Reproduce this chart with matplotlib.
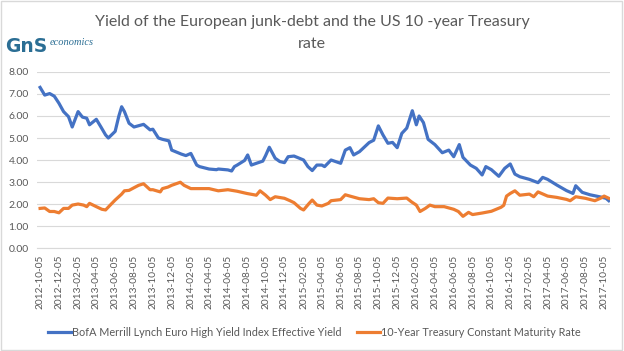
import pandas as pd
import matplotlib
matplotlib.use("Agg")
import matplotlib.pyplot as plt
import matplotlib.dates as mdates
from matplotlib.patches import Rectangle

# BofA Merrill Lynch Euro High Yield Index Effective Yield
hy_dates = ["2012-10-05", "2012-10-20", "2012-11-05", "2012-11-20", "2012-12-05", "2012-12-20",
            "2013-01-05", "2013-01-17", "2013-02-05", "2013-02-19", "2013-03-05", "2013-03-14",
            "2013-04-05", "2013-04-20", "2013-05-05", "2013-05-14", "2013-06-05", "2013-06-17",
            "2013-06-26", "2013-07-05", "2013-07-20", "2013-08-05", "2013-09-05", "2013-09-26",
            "2013-10-05", "2013-10-23", "2013-11-05", "2013-11-26", "2013-12-05", "2014-01-05",
            "2014-01-20", "2014-02-05", "2014-02-24", "2014-03-05", "2014-04-05", "2014-04-29",
            "2014-05-05", "2014-06-05", "2014-06-17", "2014-06-26", "2014-07-05", "2014-07-29",
            "2014-08-08", "2014-08-20", "2014-09-05", "2014-09-26", "2014-10-05", "2014-10-17",
            "2014-11-05", "2014-11-20", "2014-12-05", "2014-12-17", "2015-01-05", "2015-02-05",
            "2015-02-19", "2015-03-05", "2015-03-20", "2015-04-05", "2015-04-14", "2015-05-05",
            "2015-06-05", "2015-06-20", "2015-07-05", "2015-07-17", "2015-08-05", "2015-09-05",
            "2015-09-20", "2015-10-05", "2015-10-20", "2015-11-05", "2015-11-20", "2015-12-05",
            "2015-12-20", "2016-01-05", "2016-01-23", "2016-02-05", "2016-02-14", "2016-02-28",
            "2016-03-14", "2016-04-05", "2016-04-29", "2016-05-20", "2016-06-05", "2016-06-23",
            "2016-07-05", "2016-07-29", "2016-08-17", "2016-09-05", "2016-09-17", "2016-10-05",
            "2016-10-29", "2016-11-17", "2016-12-05", "2016-12-20", "2017-01-05", "2017-02-05",
            "2017-03-05", "2017-03-20", "2017-04-05", "2017-05-05", "2017-06-05", "2017-06-26",
            "2017-07-05", "2017-07-26", "2017-08-20", "2017-09-20", "2017-10-11", "2017-10-20"]
hy_yield = [7.30, 6.95, 7.02, 6.90, 6.58, 6.20,
            5.97, 5.50, 6.20, 5.95, 5.90, 5.60,
            5.85, 5.50, 5.14, 5.00, 5.30, 6.00,
            6.42, 6.20, 5.67, 5.50, 5.62, 5.37,
            5.40, 5.00, 4.94, 4.87, 4.45, 4.27,
            4.20, 4.30, 3.77, 3.70, 3.59, 3.56,
            3.59, 3.55, 3.50, 3.70, 3.77, 3.98,
            4.23, 3.77, 3.85, 3.95, 4.20, 4.58,
            4.08, 3.93, 3.88, 4.15, 4.18, 4.00,
            3.70, 3.52, 3.77, 3.77, 3.70, 4.00,
            3.85, 4.45, 4.56, 4.23, 4.38, 4.79,
            4.90, 5.55, 5.14, 4.76, 4.80, 4.56,
            5.21, 5.45, 6.24, 5.60, 6.00, 5.70,
            4.94, 4.70, 4.33, 4.45, 4.15, 4.70,
            4.12, 3.77, 3.62, 3.32, 3.70, 3.56,
            3.26, 3.62, 3.82, 3.36, 3.24, 3.12,
            2.97, 3.21, 3.12, 2.86, 2.61, 2.48,
            2.83, 2.53, 2.42, 2.33, 2.26, 2.15]

# 10-Year Treasury Constant Maturity Rate
ust_dates = ["2012-10-05", "2012-10-20", "2012-11-05", "2012-11-20", "2012-12-05", "2012-12-20",
             "2013-01-05", "2013-01-17", "2013-02-05", "2013-02-23", "2013-03-05", "2013-03-14",
             "2013-04-05", "2013-04-23", "2013-05-05", "2013-05-20", "2013-06-05", "2013-06-26",
             "2013-07-05", "2013-07-20", "2013-08-05", "2013-08-20", "2013-09-05", "2013-09-26",
             "2013-10-05", "2013-10-29", "2013-11-05", "2013-11-23", "2013-12-05", "2014-01-02",
             "2014-01-14", "2014-02-05", "2014-03-05", "2014-04-05", "2014-05-05", "2014-06-05",
             "2014-07-05", "2014-08-05", "2014-09-05", "2014-09-17", "2014-10-05", "2014-10-20",
             "2014-11-05", "2014-12-05", "2014-12-23", "2015-01-05", "2015-01-26", "2015-02-05",
             "2015-02-23", "2015-03-05", "2015-03-20", "2015-04-05", "2015-04-26", "2015-05-05",
             "2015-06-05", "2015-06-20", "2015-07-05", "2015-08-05", "2015-09-05", "2015-09-20",
             "2015-10-05", "2015-10-20", "2015-11-05", "2015-12-05", "2016-01-05", "2016-01-20",
             "2016-02-05", "2016-02-17", "2016-03-05", "2016-03-20", "2016-04-05", "2016-05-05",
             "2016-06-05", "2016-06-20", "2016-07-05", "2016-07-23", "2016-08-05", "2016-09-05",
             "2016-10-05", "2016-11-05", "2016-11-14", "2016-11-23", "2016-12-05", "2016-12-20",
             "2017-01-05", "2017-02-05", "2017-02-19", "2017-03-05", "2017-04-05", "2017-05-05",
             "2017-06-05", "2017-06-17", "2017-07-05", "2017-08-05", "2017-09-05", "2017-09-23",
             "2017-10-05", "2017-10-20"]
ust_rate = [1.80, 1.82, 1.66, 1.66, 1.60, 1.80,
            1.80, 1.95, 2.00, 1.95, 1.88, 2.03,
            1.88, 1.76, 1.73, 1.95, 2.18, 2.45,
            2.60, 2.62, 2.74, 2.85, 2.92, 2.65,
            2.65, 2.55, 2.70, 2.77, 2.85, 2.99,
            2.85, 2.70, 2.70, 2.70, 2.60, 2.65,
            2.58, 2.48, 2.40, 2.60, 2.40, 2.20,
            2.33, 2.26, 2.15, 2.06, 1.80, 1.73,
            2.03, 2.18, 1.95, 1.91, 2.03, 2.15,
            2.20, 2.42, 2.36, 2.24, 2.20, 2.24,
            2.06, 2.03, 2.27, 2.24, 2.27, 2.10,
            1.95, 1.66, 1.80, 1.95, 1.88, 1.88,
            1.76, 1.66, 1.44, 1.62, 1.52, 1.59,
            1.67, 1.85, 1.94, 2.36, 2.48, 2.60,
            2.40, 2.45, 2.33, 2.55, 2.36, 2.30,
            2.21, 2.15, 2.33, 2.26, 2.15, 2.26,
            2.36, 2.26]

hy_label = "BofA Merrill Lynch Euro High Yield Index Effective Yield"
ust_label = "10-Year Treasury Constant Maturity Rate"
title = "Yield of the European junk-debt and the US 10 -year Treasury\nrate"
# every other month, on the 5th
tick_dates = pd.date_range("2012-10-01", "2017-10-01", freq="2MS") + pd.Timedelta(days=4)

plt.rcParams['font.family'] = ['Lato', 'DejaVu Sans']
txt = '#595959'

fig = plt.figure(figsize=(6.24, 3.51), dpi=100)
ax = fig.add_axes([0.0593, 0.2934, 0.9183, 0.5015])

ax.plot(pd.to_datetime(hy_dates), hy_yield, color='#4472C4', lw=2.3, label=hy_label,
        solid_joinstyle='round')
ax.plot(pd.to_datetime(ust_dates), ust_rate, color='#ED7D31', lw=2.3, label=ust_label,
        solid_joinstyle='round')

ax.set_ylim(0, 8)
ax.set_yticks(range(0, 9))
ax.set_yticklabels(['%.2f' % v for v in range(0, 9)])
ax.set_xlim(pd.Timestamp("2012-09-25"), pd.Timestamp("2017-10-24"))
ax.set_xticks(tick_dates)
ax.xaxis.set_major_formatter(mdates.DateFormatter('%Y-%m-%d'))
ax.tick_params(axis='x', rotation=90, labelsize=7.3, colors=txt, length=0, pad=5)
ax.tick_params(axis='y', labelsize=7.5, colors=txt, length=0, pad=6)
ax.grid(axis='y', color='#D9D9D9', lw=0.8)
ax.set_axisbelow(True)
for s in ['top', 'right', 'left']:
    ax.spines[s].set_visible(False)
ax.spines['bottom'].set_color('#D9D9D9')

fig.text(0.5, 0.907, title, ha='center', va='center', fontsize=11.5, color=txt,
         linespacing=1.75)

# logo
fig.text(0.008, 0.868, 'GnS', fontsize=13.5, color='#2B6E94', fontweight='bold',
         va='center', ha='left', family='DejaVu Sans')
fig.text(0.079, 0.878, 'economics', fontsize=7.5, color='#2B6E94', style='italic',
         va='center', ha='left', family='Liberation Serif')

fig.legend(loc='center', bbox_to_anchor=(0.504, 0.054), ncol=2, frameon=False,
           fontsize=7.85, labelcolor=txt, handlelength=2.1, handletextpad=0.1,
           columnspacing=1.4)

fig.patches.append(Rectangle((0.002, 0.003), 0.995, 0.993, transform=fig.transFigure,
                             fill=False, edgecolor='#D9D9D9', lw=1))

fig.savefig('out.png', dpi=100)
